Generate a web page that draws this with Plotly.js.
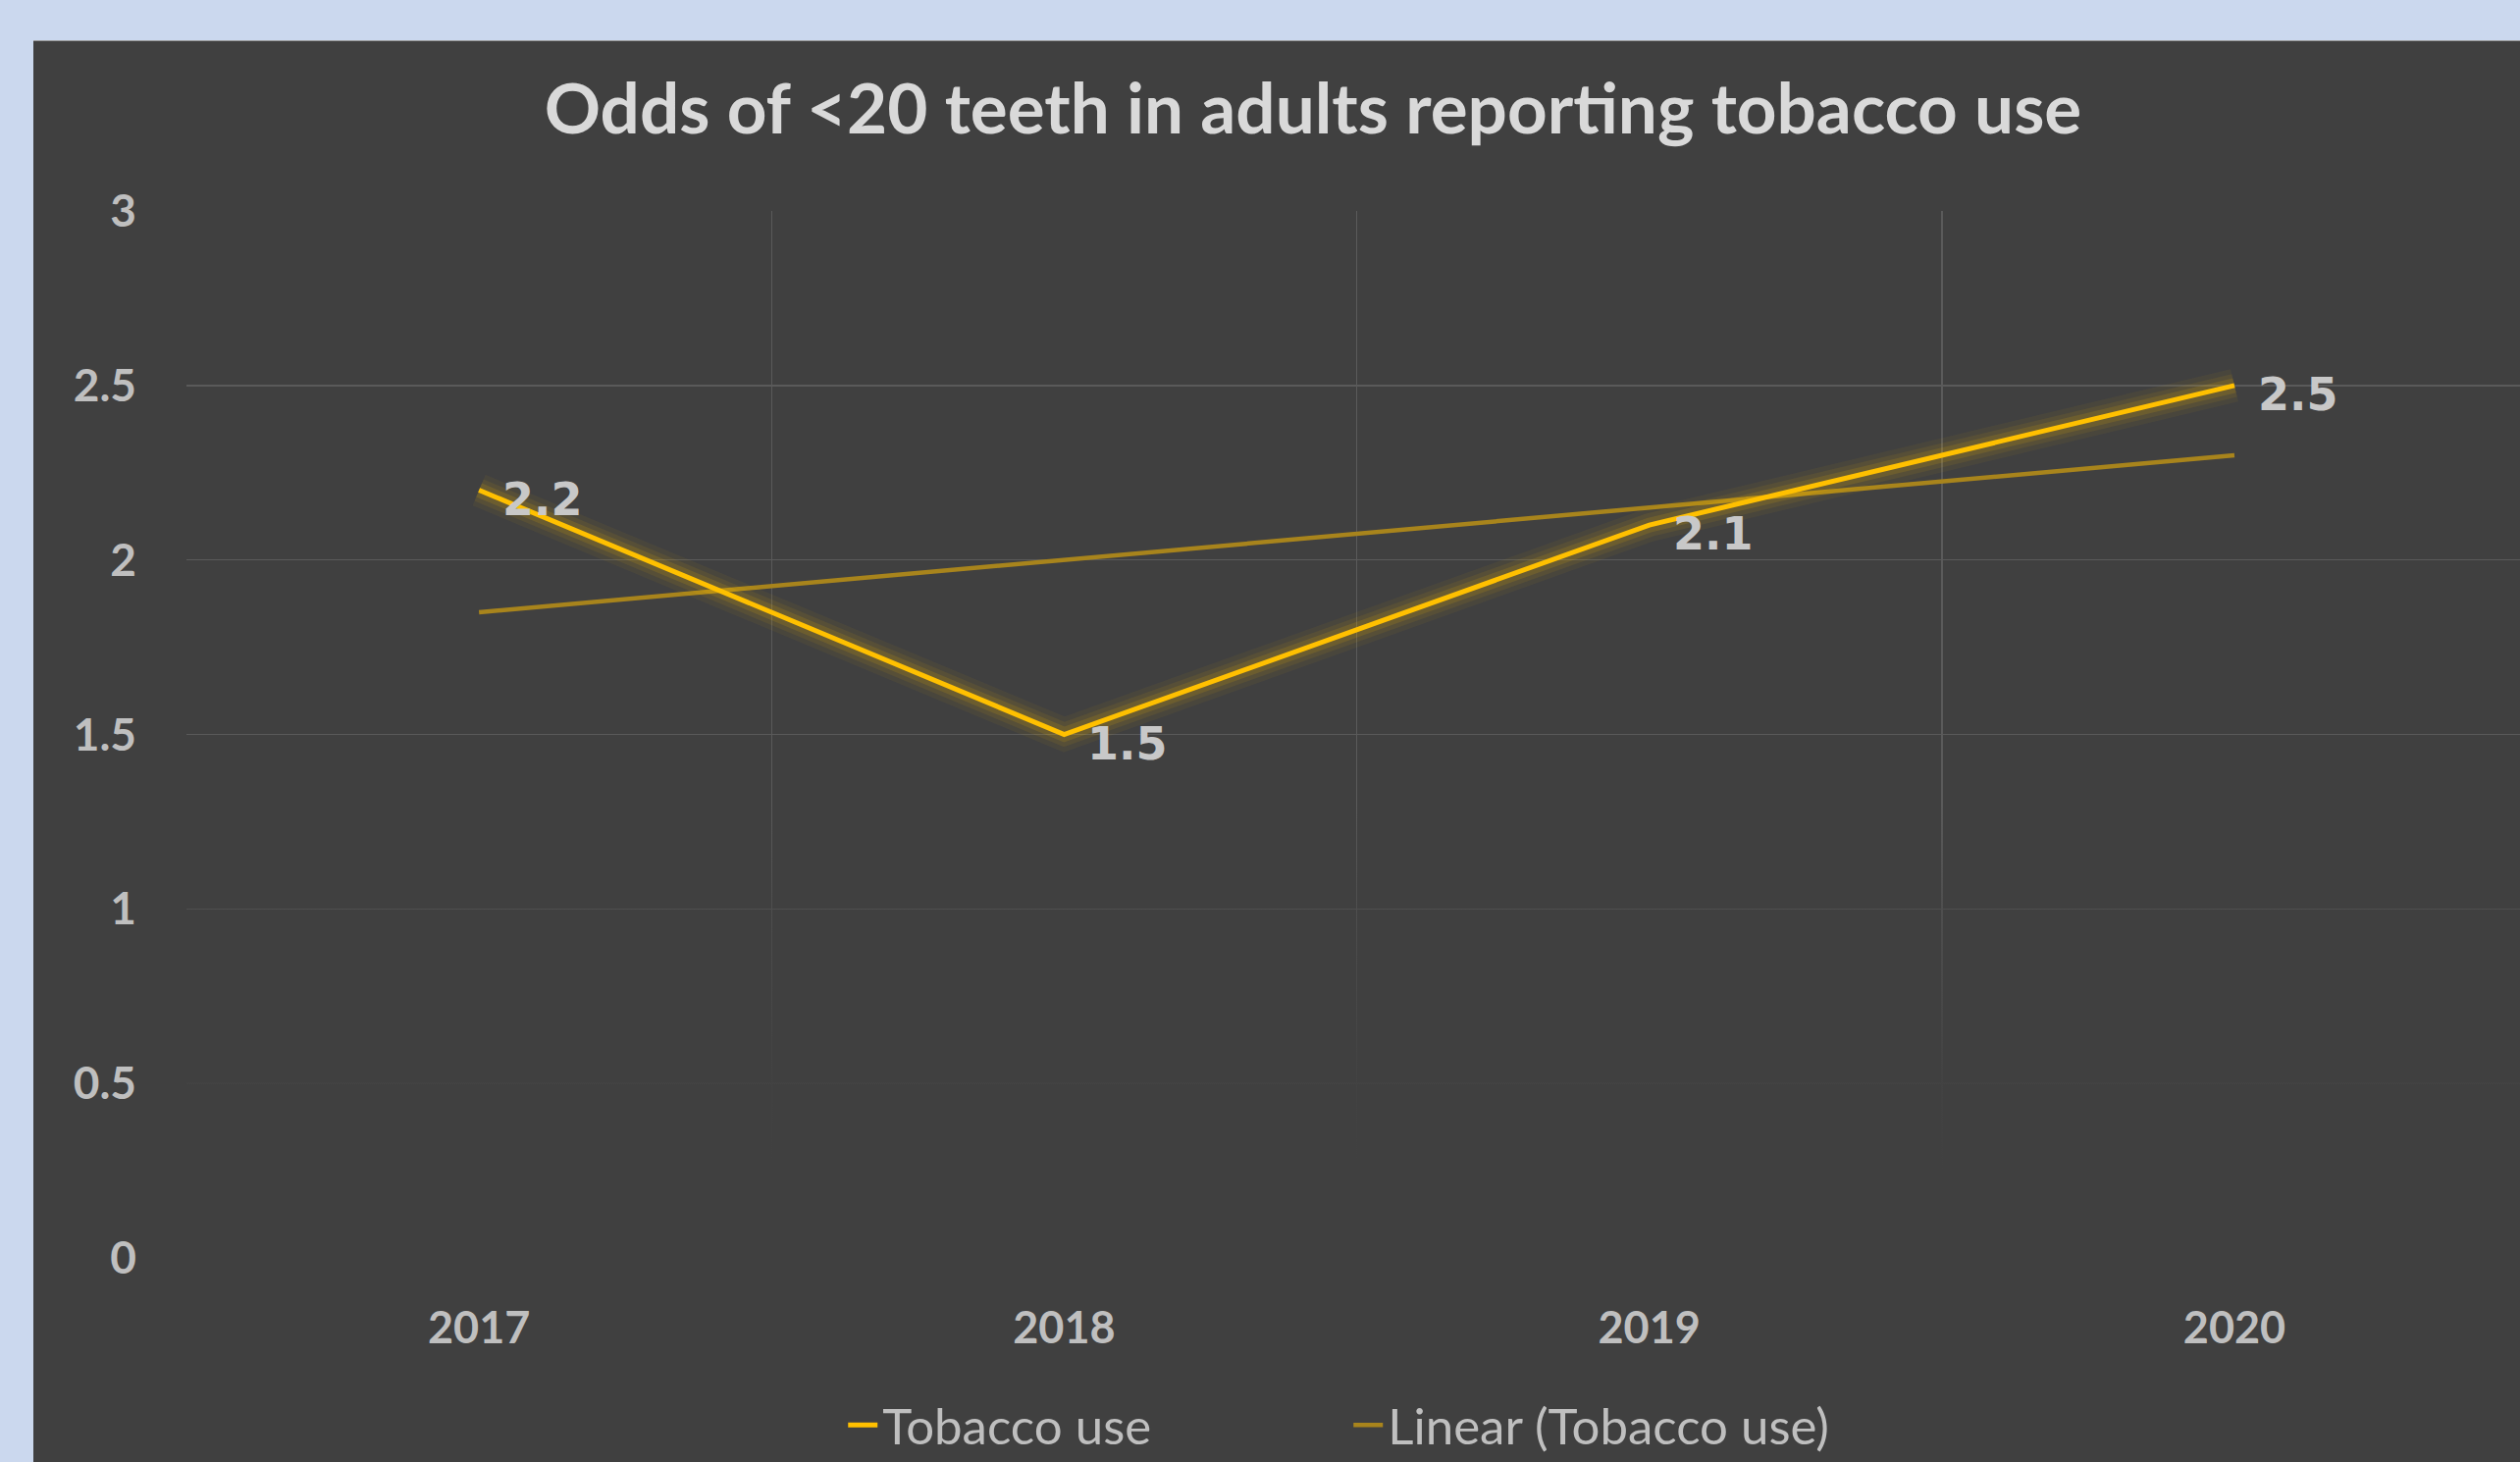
<!DOCTYPE html>
<html>
<head>
<meta charset="utf-8">
<script src="https://cdn.plot.ly/plotly-3.0.1.min.js"></script>
<style>
  html, body { margin: 0; padding: 0; background: #CBD8EE; width: 2568px; height: 1490px; overflow: hidden; }
  #chart { position: absolute; left: 34px; top: 41px; width: 2534px; height: 1449px; border-top: 1px solid #9a9a9a; box-sizing: border-box; }
</style>
</head>
<body>
<div id="chart"></div>
<script>
const years = ["2017", "2018", "2019", "2020"];
const tobaccoUse = [2.2, 1.5, 2.1, 2.5];
const linearTrend = [1.85, 2.0, 2.15, 2.3];
const labels = ["2.2", "1.5", "2.1", "2.5"];
const yTicks = [0, 0.5, 1, 1.5, 2, 2.5, 3];
const yTickText = ["0", "0.5", "1", "1.5", "2", "2.5", "3"];

const FONT = "Lato, 'Open Sans', sans-serif";
const LABEL_FONT = "'DejaVu Sans', Verdana, sans-serif";
const GOLD = "#FFC000";
const TREND = "#A8841C";
const BG = "#404040";

const glow = [[34, 0.05], [24, 0.08], [15, 0.13]];

const traces = [
  {
    x: years, y: linearTrend, type: "scatter", mode: "lines",
    name: "Linear (Tobacco use)",
    line: { color: TREND, width: 4.5 },
    hoverinfo: "skip", legendrank: 2
  }
].concat(glow.map(g => ({
  x: years, y: tobaccoUse, type: "scatter", mode: "lines",
  line: { color: "rgba(255,192,0," + g[1] + ")", width: g[0] },
  showlegend: false, hoverinfo: "skip"
}))).concat([
  {
    x: years, y: tobaccoUse, type: "scatter", mode: "lines",
    name: "Tobacco use",
    line: { color: GOLD, width: 5 },
    hoverinfo: "skip", legendrank: 1
  }
]);

const annotations = years.map((yr, i) => ({
  x: i, y: tobaccoUse[i], xref: "x", yref: "y",
  text: labels[i], showarrow: false,
  xanchor: "left", yanchor: "middle", xshift: 22, yshift: -9,
  font: { family: LABEL_FONT, size: 46, color: "#C8C8C8", weight: "bold" }
}));

const fadeSvg =
  "<svg xmlns='http://www.w3.org/2000/svg' width='100' height='100' preserveAspectRatio='none'>" +
  "<defs><linearGradient id='g' x1='0' y1='0' x2='0' y2='1'>" +
  "<stop offset='0' stop-color='" + BG + "' stop-opacity='0'/>" +
  "<stop offset='0.22' stop-color='" + BG + "' stop-opacity='0.45'/>" +
  "<stop offset='0.6' stop-color='" + BG + "' stop-opacity='0.9'/>" +
  "<stop offset='0.8' stop-color='" + BG + "' stop-opacity='1'/>" +
  "<stop offset='1' stop-color='" + BG + "' stop-opacity='1'/>" +
  "</linearGradient></defs><rect width='100' height='100' fill='url(#g)'/></svg>";

const layout = {
  width: 2534, height: 1448,
  paper_bgcolor: BG, plot_bgcolor: BG,
  margin: { l: 156, r: 0, t: 173, b: 208, pad: 0, autoexpand: false },
  title: {
    text: "Odds of <20 teeth in adults reporting tobacco use",
    font: { family: FONT, size: 71, color: "#D9D9D9", weight: "bold" },
    xref: "container", x: 0.5146, xanchor: "center",
    yref: "container", y: 0.952, yanchor: "middle"
  },
  xaxis: {
    type: "category", categoryorder: "array", categoryarray: years,
    range: [-0.5, 3.488],
    tickson: "boundaries",
    showgrid: true, gridcolor: "#5A5A5A", gridwidth: 1.5,
    showline: false, zeroline: false, ticks: "",
    ticklabelstandoff: 41, automargin: false,
    tickfont: { family: FONT, size: 45, color: "#BFBFBF", weight: "bold" }
  },
  yaxis: {
    range: [0, 3], tickmode: "array", tickvals: yTicks, ticktext: yTickText,
    showgrid: true, gridcolor: "#5A5A5A", gridwidth: 1.5,
    showline: false, zeroline: true, zerolinecolor: BG, zerolinewidth: 1, ticks: "",
    ticklabelstandoff: 50, automargin: false,
    tickfont: { family: FONT, size: 46, color: "#BFBFBF", weight: "bold" }
  },
  images: [{
    source: "data:image/svg+xml;charset=utf-8," + encodeURIComponent(fadeSvg),
    xref: "paper", yref: "y", x: 0, y: 1.3, sizex: 1, sizey: 1.32,
    xanchor: "left", yanchor: "top", sizing: "stretch", layer: "above", opacity: 1
  }],
  annotations: annotations,
  showlegend: true,
  legend: {
    orientation: "h", x: 0.498, xanchor: "center", y: -0.16, yanchor: "middle",
    font: { family: FONT, size: 51, color: "#BFBFBF" },
    bgcolor: "rgba(0,0,0,0)", traceorder: "normal",
    entrywidth: 470, itemwidth: 30
  },
  hovermode: false
};

Plotly.newPlot("chart", traces, layout, { staticPlot: true, displayModeBar: false });
</script>
</body>
</html>
